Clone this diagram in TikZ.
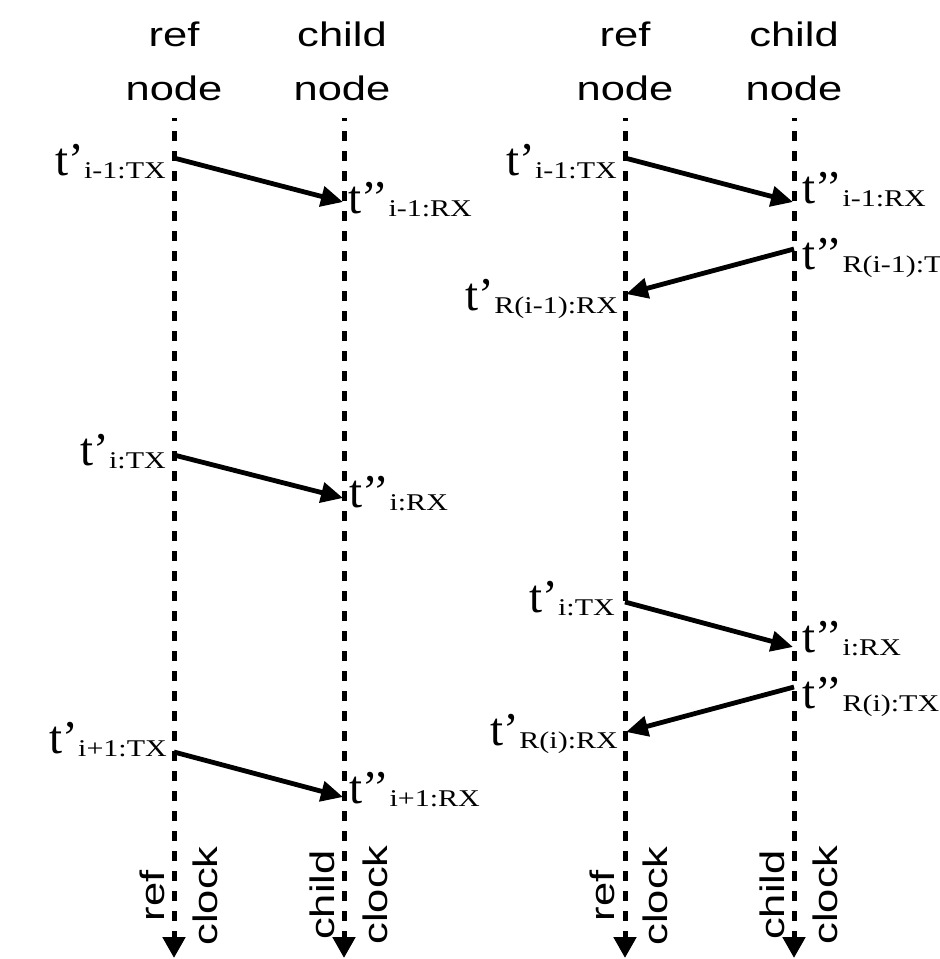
\documentclass[tikz,border=0pt]{standalone}
\usepackage{fontspec}
\setmainfont{Liberation Serif}
\newfontfamily\hdrfont[FakeStretch=1.28]{Liberation Sans}
\newfontfamily\subfont[FakeStretch=1.25]{Liberation Serif}
\usetikzlibrary{arrows.meta}
\newcommand\tstamp[2]{{\fontsize{47}{47}\selectfont t#1}\raisebox{-3pt}{\subfont\fontsize{24}{24}\selectfont #2}}
\newcommand\tp{’}
\newcommand\tpp{’\kern-4pt’}
\tikzset{
  timeline/.style={line width=5pt, dash pattern=on 10pt off 10pt, dash phase=7pt, -{Triangle[length=21pt,width=22pt]}},
  msg/.style={line width=4.8pt, -{Triangle[length=22pt,width=20pt]}},
  hdr/.style={font=\hdrfont\fontsize{34}{54}\selectfont, align=center, inner sep=0pt, anchor=base},
  clk/.style={font=\hdrfont\fontsize{34}{53}\selectfont, align=center, inner sep=0pt, anchor=base, rotate=90},
  lblL/.style={inner sep=0pt, anchor=base east},
  lblR/.style={inner sep=0pt, anchor=base west},
}
\begin{document}
\begin{tikzpicture}[x=1pt,y=-1pt]
\useasboundingbox (0,0) rectangle (940,959);
% headers (anchor = baseline of last line)
\node[hdr] (h1) at (174,100) {ref\\node};
\node[hdr] (h2) at (342,100) {child\\node};
\node[hdr] (h3) at (625,100) {ref\\node};
\node[hdr] (h4) at (794,100) {child\\node};
% timelines
\coordinate (lrT) at (174,118); \coordinate (lrB) at (174,958);
\coordinate (lcT) at (344,118); \coordinate (lcB) at (344,958);
\coordinate (rrT) at (625,118); \coordinate (rrB) at (625,958);
\coordinate (rcT) at (794,118); \coordinate (rcB) at (794,958);
\draw[timeline] (lrT) -- (lrB);
\draw[timeline] (lcT) -- (lcB);
\draw[timeline] (rrT) -- (rrB);
\draw[timeline] (rcT) -- (rcB);
% clock labels (anchor = baseline of last line)
\node[clk] (c1) at (217,896) {ref\\clock};
\node[clk] (c2) at (387,895) {child\\clock};
\node[clk] (c3) at (667,896) {ref\\clock};
\node[clk] (c4) at (837,895) {child\\clock};
% left panel messages
\coordinate (a1) at (174,158); \coordinate (b1) at (343,202);
\coordinate (a2) at (174,455); \coordinate (b2) at (343,498);
\coordinate (a3) at (174,752); \coordinate (b3) at (343,797);
\draw[msg] (a1) -- (b1);
\draw[msg] (a2) -- (b2);
\draw[msg] (a3) -- (b3);
\node[lblL] (l1) at (166,175) {\tstamp{\tp}{i-1:TX}};
\node[lblR] (l2) at (348,213) {\tstamp{\tpp}{i-1:RX}};
\node[lblL] (l3) at (166,465) {\tstamp{\tp}{i:TX}};
\node[lblR] (l4) at (349,507) {\tstamp{\tpp}{i:RX}};
\node[lblL] (l5) at (167,753) {\tstamp{\tp}{i+1:TX}};
\node[lblR] (l6) at (349,803) {\tstamp{\tpp}{i+1:RX}};
% right panel messages
\coordinate (d1) at (625,158); \coordinate (e1) at (793,202);
\coordinate (e2) at (794,249); \coordinate (d2) at (626,294);
\coordinate (d3) at (625,602); \coordinate (e3) at (793,647);
\coordinate (e4) at (794,687); \coordinate (d4) at (626,732);
\draw[msg] (d1) -- (e1);
\draw[msg] (e2) -- (d2);
\draw[msg] (d3) -- (e3);
\draw[msg] (e4) -- (d4);
\node[lblL] (r1) at (617,175) {\tstamp{\tp}{i-1:TX}};
\node[lblR] (r2) at (802,203) {\tstamp{\tpp}{i-1:RX}};
\node[lblR] (r3) at (802,269) {\tstamp{\tpp}{R(i-1):TX}};
\node[lblL] (r4) at (618,310) {\tstamp{\tp}{R(i-1):RX}};
\node[lblL] (r5) at (615,612) {\tstamp{\tp}{i:TX}};
\node[lblR] (r6) at (802,652) {\tstamp{\tpp}{i:RX}};
\node[lblR] (r7) at (802,708) {\tstamp{\tpp}{R(i):TX}};
\node[lblL] (r8) at (618,745) {\tstamp{\tp}{R(i):RX}};
\end{tikzpicture}
\end{document}
